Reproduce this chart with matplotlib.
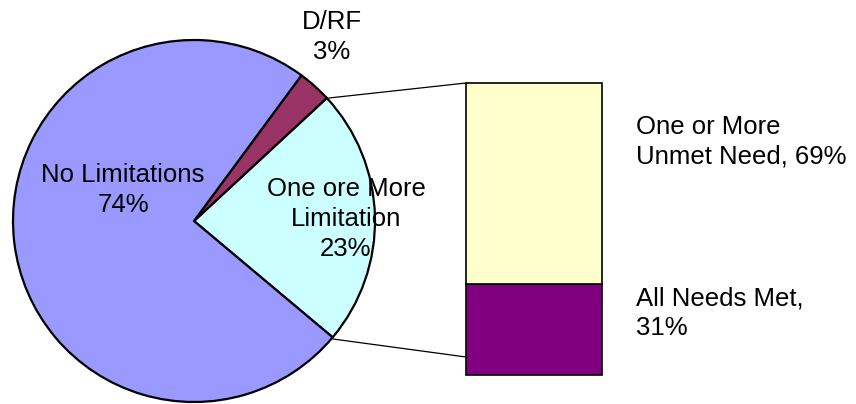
import matplotlib
matplotlib.use("Agg")
import matplotlib.pyplot as plt

# pie data
pie_labels = ["One ore More\nLimitation\n23%", "D/RF\n3%", "No Limitations\n74%"]
pie_values = [23, 3, 74]
pie_colors = ["#CCFFFF", "#993366", "#9999FF"]

# breakdown of the "limitation" slice
bar_labels = ["All Needs Met,\n31%", "One or More\nUnmet Need, 69%"]
bar_values = [31, 69]
bar_colors = ["#800080", "#FFFFCC"]

plt.rcParams["font.family"] = ["Liberation Sans", "DejaVu Sans"]

W, H = 856, 404
fig = plt.figure(figsize=(W / 100, H / 100), dpi=100)
ax = fig.add_axes([0, 0, 1, 1])

cx, cy, r = 194, H - 221, 181
ax.pie(pie_values, colors=pie_colors, startangle=-40, counterclock=True,
       center=(cx, cy), radius=r, frame=True,
       wedgeprops=dict(edgecolor="black", linewidth=1.6))
ax.set_xlim(0, W)
ax.set_ylim(0, H)
ax.set_aspect("equal")
ax.axis("off")

fs = 18.5
ls = 1.3
ax.text(332, H - 37, pie_labels[1], ha="center", va="center", fontsize=fs, linespacing=ls)
ax.text(123, H - 190, pie_labels[2], ha="center", va="center", fontsize=fs, linespacing=ls)
ax.text(346, H - 219, pie_labels[0], ha="center", va="center", fontsize=fs, linespacing=ls)

# stacked bar
bx, bw = 466, 136
btop, bbot = H - 83, H - 375
scale = (btop - bbot) / sum(bar_values)
bottom = bbot
for v, c in zip(bar_values, bar_colors):
    ax.bar(bx, v * scale, width=bw, bottom=bottom, align="edge", color=c,
           edgecolor="black", linewidth=1.2)
    bottom += v * scale

ax.text(636, H - 313, bar_labels[0], ha="left", va="center", fontsize=fs, linespacing=ls)
ax.text(636, H - 142, bar_labels[1], ha="left", va="center", fontsize=fs, linespacing=ls)

# connector lines
ax.plot([329, bx], [H - 98, H - 83], color="black", linewidth=0.9)
ax.plot([333, bx], [H - 339, H - 357], color="black", linewidth=0.9)

fig.savefig("out.png", dpi=100)
